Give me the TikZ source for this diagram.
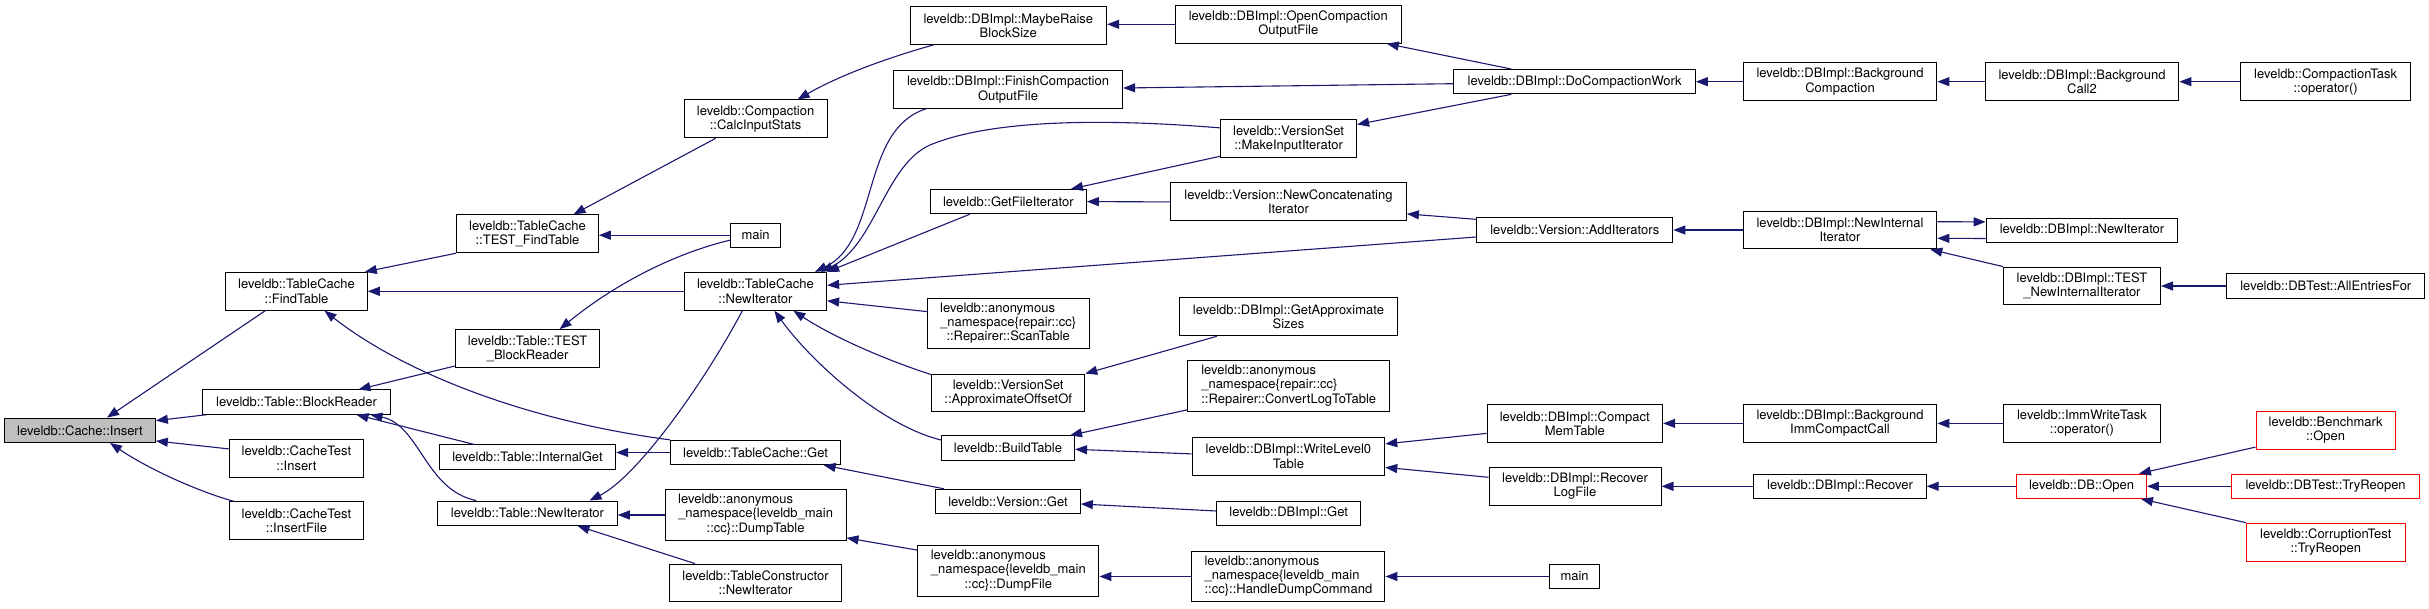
\documentclass[tikz,border=0pt]{standalone}
\usepackage{fontspec}
\setmainfont{TeX Gyre Heros}
\usetikzlibrary{arrows.meta,calc}
\definecolor{edgeblue}{HTML}{191970}
\definecolor{nodegray}{HTML}{BFBFBF}
\newcommand\anonthree[3]{\begin{tabular}{@{}l@{}}#1\\#2\\\multicolumn{1}{@{}c@{}}{#3}\end{tabular}}
\tikzset{
  box/.style={draw=black, line width=1pt, fill=white, inner sep=0pt, align=center,
    font=\fontsize{13}{14.2}\selectfont},
  one/.style={minimum height=24.3pt},
  two/.style={minimum height=37.8pt},
  three/.style={minimum height=50.8pt},
  redbox/.style={draw=red},
  edge/.style={draw=edgeblue, line width=1.1pt, -{Triangle[length=12pt,width=9pt]}}
}
\begin{document}
\begin{tikzpicture}[x=1pt,y=-1pt]
\useasboundingbox[fill=white] (0,0) rectangle (2429,609);
% column 1
\node[box,one,fill=nodegray,minimum width=150.7pt] (insert) at (80,430.3) {leveldb::Cache::Insert};
% column 2
\node[box,two,minimum width=141.5pt] (findtable) at (296.5,291.3) {leveldb::TableCache\\::FindTable};
\node[box,one,minimum width=187.5pt] (blockreader) at (296.5,402.1) {leveldb::Table::BlockReader};
\node[box,two,minimum width=134.5pt] (ctinsert) at (296.5,458.3) {leveldb::CacheTest\\::Insert};
\node[box,two,minimum width=134.5pt] (ctinsertfile) at (296.5,520.7) {leveldb::CacheTest\\::InsertFile};
% column 3
\node[box,two,minimum width=141.6pt] (testfind) at (527.5,233.8) {leveldb::TableCache\\::TEST\_FindTable};
\node[box,two,minimum width=144.3pt] (testblock) at (527.6,348.6) {leveldb::Table::TEST\\\_BlockReader};
\node[box,one,minimum width=176.4pt] (internalget) at (527.5,457) {leveldb::Table::InternalGet};
\node[box,one,minimum width=179.5pt] (tnewiter) at (527.5,513.2) {leveldb::Table::NewIterator};
% column 4
\node[box,two,minimum width=142.8pt] (calc) at (755.6,118.9) {leveldb::Compaction\\::CalcInputStats};
\node[box,one,minimum width=50.2pt] (main1) at (755.6,235.2) {main};
\node[box,two,minimum width=142.4pt] (tcnewiter) at (755.4,291.3) {leveldb::TableCache\\::NewIterator};
\node[box,one,minimum width=170.4pt] (tcget) at (755.6,452.5) {leveldb::TableCache::Get};
\node[box,three,minimum width=180.8pt] (dumptable) at (755.6,515) {\anonthree{leveldb::anonymous}{\_namespace\{leveldb\_main}{::cc\}::DumpTable}};
\node[box,two,minimum width=172pt] (tconstr) at (755.5,583) {leveldb::TableConstructor\\::NewIterator};
% column 5
\node[box,two,minimum width=196.5pt] (maybe) at (1008.3,25.5) {leveldb::DBImpl::MaybeRaise\\BlockSize};
\node[box,two,minimum width=229.3pt] (finish) at (1008,89.5) {leveldb::DBImpl::FinishCompaction\\OutputFile};
\node[box,one,minimum width=156.2pt] (getfileiter) at (1008.3,201.6) {leveldb::GetFileIterator};
\node[box,three,minimum width=161.7pt] (scantable) at (1008.2,323.5) {\anonthree{leveldb::anonymous}{\_namespace\{repair::cc\}}{::Repairer::ScanTable}};
\node[box,two,minimum width=153.1pt] (approxoff) at (1008.2,393) {leveldb::VersionSet\\::ApproximateOffsetOf};
\node[box,one,minimum width=133pt] (buildtable) at (1008,448) {leveldb::BuildTable};
\node[box,one,minimum width=144.7pt] (versionget) at (1008,501.5) {leveldb::Version::Get};
\node[box,three,minimum width=181.3pt] (dumpfile) at (1008.3,571) {\anonthree{leveldb::anonymous}{\_namespace\{leveldb\_main}{::cc\}::DumpFile}};
% column 6
\node[box,two,minimum width=226pt] (opencomp) at (1288.3,24.3) {leveldb::DBImpl::OpenCompaction\\OutputFile};
\node[box,two,minimum width=136pt] (makeinput) at (1288.6,138.9) {leveldb::VersionSet\\::MakeInputIterator};
\node[box,two,minimum width=235.8pt] (newconcat) at (1288.5,201.9) {leveldb::Version::NewConcatenating\\Iterator};
\node[box,two,minimum width=218.4pt] (getapprox) at (1288.5,316.9) {leveldb::DBImpl::GetApproximate\\Sizes};
\node[box,three,minimum width=202.2pt] (convertlog) at (1288.7,386) {\anonthree{leveldb::anonymous}{\_namespace\{repair::cc\}}{::Repairer::ConvertLogToTable}};
\node[box,two,minimum width=192.7pt] (writelevel0) at (1288.4,456.4) {leveldb::DBImpl::WriteLevel0\\Table};
\node[box,one,minimum width=143.8pt] (dbget) at (1288.7,513.5) {leveldb::DBImpl::Get};
\node[box,three,minimum width=193pt] (handledump) at (1288.4,576.5) {\anonthree{leveldb::anonymous}{\_namespace\{leveldb\_main}{::cc\}::HandleDumpCommand}};
% column 7
\node[box,one,minimum width=241.5pt] (docomp) at (1574.6,81.7) {leveldb::DBImpl::DoCompactionWork};
\node[box,one,minimum width=196pt] (additer) at (1574.8,230) {leveldb::Version::AddIterators};
\node[box,two,minimum width=175.6pt] (compactmem) at (1574.8,423.4) {leveldb::DBImpl::Compact\\MemTable};
\node[box,two,minimum width=172pt] (recoverlog) at (1575,486.3) {leveldb::DBImpl::Recover\\LogFile};
\node[box,one,minimum width=50.5pt] (main2) at (1574.6,576.5) {main};
% column 8
\node[box,two,minimum width=193.6pt] (bgcompaction) at (1840,81.7) {leveldb::DBImpl::Background\\Compaction};
\node[box,two,minimum width=193.6pt] (newinternal) at (1840,230) {leveldb::DBImpl::NewInternal\\Iterator};
\node[box,two,minimum width=193.6pt] (bgimm) at (1840,423.4) {leveldb::DBImpl::Background\\ImmCompactCall};
\node[box,one,minimum width=172.3pt] (recover) at (1840,486.3) {leveldb::DBImpl::Recover};
% column 9
\node[box,two,minimum width=193.7pt] (bgcall2) at (2082,81.7) {leveldb::DBImpl::Background\\Call2};
\node[box,one,minimum width=191.7pt] (dbnewiter) at (2082,230.2) {leveldb::DBImpl::NewIterator};
\node[box,two,minimum width=157pt] (testnewinternal) at (2082,286) {leveldb::DBImpl::TEST\\\_NewInternalIterator};
\node[box,two,minimum width=156.2pt] (immwrite) at (2082,423.4) {leveldb::ImmWriteTask\\::operator()};
\node[box,one,redbox,minimum width=129.7pt] (dbopen) at (2081.6,486.3) {leveldb::DB::Open};
% column 10
\node[box,two,minimum width=170pt] (comptask) at (2325.6,81.7) {leveldb::CompactionTask\\::operator()};
\node[box,one,minimum width=198pt] (allentries) at (2325.8,286) {leveldb::DBTest::AllEntriesFor};
\node[box,two,redbox,minimum width=139.2pt] (benchopen) at (2325.6,430.2) {leveldb::Benchmark\\::Open};
\node[box,one,redbox,minimum width=187.3pt] (dbtestreopen) at (2325.6,486.3) {leveldb::DBTest::TryReopen};
\node[box,two,redbox,minimum width=158.5pt] (corrupt) at (2325.8,542.1) {leveldb::CorruptionTest\\::TryReopen};
% edges (caller -> callee, arrow at callee)
\draw[edge] ($(findtable.south west)+(40,0)$) -- ($(insert.north)+(27,0)$);
\draw[edge] ($(blockreader.south west)+(4,0)$) -- ($(insert.north east)+(0,3)$);
\draw[edge] ($(ctinsert.north west)+(0,10)$) -- ($(insert.south east)+(0,-2)$);
\draw[edge] ($(ctinsertfile.north west)+(5,0)$) .. controls (200,492) and (150,470) .. ($(insert.south)+(30,0)$);
\draw[edge] (testfind.south west) -- ($(findtable.north east)+(-3,0)$);
\draw[edge] (tcnewiter.west) -- (findtable.east);
\draw[edge] (tcget.north west) .. controls (520,420) and (400,370) .. ($(findtable.south)+(28,0)$);
\draw[edge] ($(testblock.south west)+(0,-2)$) -- ($(blockreader.north)+(62,0)$);
\draw[edge] ($(internalget.north west)+(35,0)$) -- ($(blockreader.south)+(60,0)$);
\draw[edge] ($(tnewiter.north west)+(39,0)$) .. controls (425,490) and (420,425) .. ($(blockreader.south)+(74,0)$);
\draw[edge] ($(calc.south west)+(32,0)$) -- ($(testfind.north)+(46,0)$);
\draw[edge] (main1.west) -- (main1.west -| testfind.east);
\draw[edge] ($(main1.west)+(0,5)$) .. controls (680,252) and (620,280) .. ($(testblock.north)+(32,0)$);
\draw[edge] (tcget.west) -- (tcget.west -| internalget.east);
\draw[edge] ($(tcnewiter.south)+(-13,0)$) .. controls (700,390) and (635,478) .. ($(tnewiter.north)+(62,0)$);
\draw[edge] (dumptable.west) -- (dumptable.west -| tnewiter.east);
\draw[edge] ($(tconstr.north west)+(26,0)$) -- ($(tnewiter.south)+(50,0)$);
\draw[edge] ($(maybe.south west)+(24,0)$) .. controls (890,57) and (840,75) .. ($(calc.north)+(42,0)$);
\draw[edge] ($(finish.south west)+(33,0)$) .. controls (860,130) and (880,240) .. ($(tcnewiter.north east)+(-12,0)$);
\draw[edge] ($(makeinput.west)+(0,-11)$) .. controls (1100,118) and (990,120) .. (930,145) .. controls (885,165) and (875,245) .. ($(tcnewiter.north east)+(-6,0)$);
\draw[edge] ($(getfileiter.south west)+(40,0)$) -- (tcnewiter.north east);
\draw[edge] ($(additer.west)+(0,7)$) -- ($(tcnewiter.east)+(0,-6)$);
\draw[edge] ($(scantable.north west)+(0,14)$) -- ($(tcnewiter.east)+(0,9.5)$);
\draw[edge] ($(approxoff.north west)+(0,1)$) .. controls (880,358) and (830,335) .. ($(tcnewiter.south)+(38,0)$);
\draw[edge] ($(buildtable.west)+(0,-8)$) .. controls (880,425) and (810,360) .. ($(tcnewiter.south)+(19,0)$);
\draw[edge] (opencomp.west) -- (opencomp.west -| maybe.east);
\draw[edge] ($(docomp.west)+(0,2)$) -- ($(finish.east)+(0,-1.5)$);
\draw[edge] ($(makeinput.south west)+(0,-2)$) -- ($(getfileiter.north east)+(-16,0)$);
\draw[edge] (newconcat.west) -- (getfileiter.east);
\draw[edge] ($(getapprox.south west)+(38,0)$) -- (approxoff.north east);
\draw[edge] ($(convertlog.south west)+(0,-2)$) -- ($(buildtable.north east)+(-5,0)$);
\draw[edge] ($(writelevel0.west)+(0,-2.5)$) -- ($(buildtable.east)+(0,1.3)$);
\draw[edge] ($(dbget.west)+(0,-2.5)$) -- ($(versionget.east)+(0,2.5)$);
\draw[edge] ($(versionget.north west)+(9,0)$) -- ($(tcget.south)+(68,0)$);
\draw[edge] ($(dumpfile.north west)+(0,5)$) -- ($(dumptable.south east)+(0,-3)$);
\draw[edge] (handledump.west) -- (handledump.west -| dumpfile.east);
\draw[edge] ($(docomp.north west)+(58,0)$) -- ($(opencomp.south east)+(-15,0)$);
\draw[edge] ($(docomp.south west)+(58,0)$) -- ($(makeinput.north east)+(0,5)$);
\draw[edge] ($(additer.north west)+(0,2)$) -- ($(newconcat.east)+(0,12)$);
\draw[edge] (bgcompaction.west) -- (docomp.east);
\draw[edge] (newinternal.west) -- (additer.east);
\draw[edge] ($(compactmem.west)+(0,10)$) -- ($(writelevel0.east)+(0,-12.5)$);
\draw[edge] ($(recoverlog.west)+(0,-9)$) -- ($(writelevel0.east)+(0,11)$);
\draw[edge] (main2.west) -- (handledump.east);
\draw[edge] (bgimm.west) -- (compactmem.east);
\draw[edge] (recover.west) -- (recoverlog.east);
\draw[edge] (bgcall2.west) -- (bgcompaction.east);
\draw[edge] (comptask.west) -- (bgcall2.east);
\draw[edge] ($(newinternal.east)+(0,-8.3)$) -- ($(dbnewiter.west)+(0,-8.3)$);
\draw[edge] ($(dbnewiter.west)+(0,8.3)$) -- ($(newinternal.east)+(0,8.3)$);
\draw[edge] (testnewinternal.north west) -- ($(newinternal.south east)+(-7,0)$);
\draw[edge] (allentries.west) -- (testnewinternal.east);
\draw[edge] (immwrite.west) -- (bgimm.east);
\draw[edge] (dbopen.west) -- (recover.east);
\draw[edge] ($(benchopen.south west)+(0,-2.5)$) -- ($(dbopen.north east)+(-8,0)$);
\draw[edge] (dbtestreopen.west) -- (dbopen.east);
\draw[edge] (corrupt.north west) -- ($(dbopen.south east)+(-6,0)$);
\end{tikzpicture}
\end{document}
